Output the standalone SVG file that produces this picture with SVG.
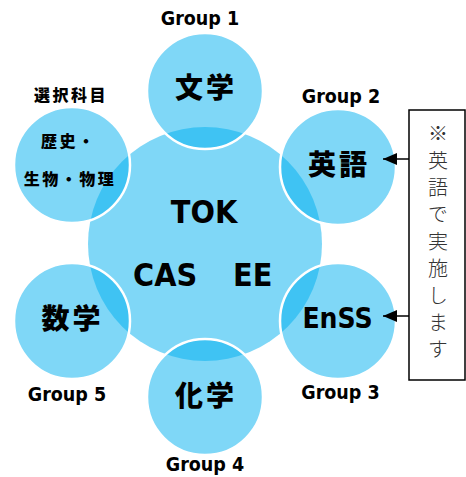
<svg xmlns="http://www.w3.org/2000/svg" width="466" height="477" viewBox="0 0 466 477">
<style>
.big{fill:#00B0F0;fill-opacity:0.5;}
.sm{fill:#00B0F0;fill-opacity:0.5;stroke:#fff;stroke-width:2.5;}
.lat{font-family:"DejaVu Sans Condensed","DejaVu Sans",sans-serif;font-weight:bold;fill:#000;}
.grp{font-size:19.5px;text-anchor:middle;}
.cjk{font-family:"Noto Sans CJK JP",sans-serif;font-weight:900;fill:#000;}
.bigj{font-size:28px;letter-spacing:3px;text-anchor:middle;}
.smj{font-size:16px;letter-spacing:2.5px;}
.note{font-family:"Noto Sans CJK JP",sans-serif;font-weight:300;font-size:20px;fill:#333;writing-mode:vertical-rl;letter-spacing:7px;}
.conn{stroke:#000;stroke-width:1.5;fill:none;}
</style>
<defs>
<marker id="ah" markerUnits="userSpaceOnUse" markerWidth="14" markerHeight="12" refX="14" refY="6" orient="auto">
<path d="M0,0 L14,6 L0,12 z" fill="#000"/>
</marker>
</defs>
<g id="core">
<circle class="big" cx="205" cy="244" r="117"/>
<text class="lat" font-size="32" x="204" y="223" text-anchor="middle">TOK</text>
<text class="lat" font-size="32" y="286"><tspan x="133">CAS</tspan><tspan x="233">EE</tspan></text>
</g>
<g id="group1">
<circle class="sm" cx="205" cy="91" r="58"/>
<text class="cjk bigj" x="206" y="98">文学</text>
<text class="lat grp" x="200" y="25">Group 1</text>
</g>
<g id="group2">
<circle class="sm" cx="338" cy="167" r="58"/>
<text class="cjk bigj" x="339" y="175">英語</text>
<text class="lat grp" x="341" y="103">Group 2</text>
</g>
<g id="group3">
<circle class="sm" cx="338" cy="321" r="58"/>
<text class="lat" font-size="28" x="337.5" y="328" text-anchor="middle">EnSS</text>
<text class="lat grp" x="340.5" y="399">Group 3</text>
</g>
<g id="group4">
<circle class="sm" cx="205" cy="397" r="58"/>
<text class="cjk bigj" x="206" y="406">化学</text>
<text class="lat grp" x="205" y="471">Group 4</text>
</g>
<g id="group5">
<circle class="sm" cx="72" cy="321" r="58"/>
<text class="cjk bigj" x="72.5" y="329">数学</text>
<text class="lat grp" x="67" y="401">Group 5</text>
</g>
<g id="elective">
<circle class="sm" cx="72" cy="165" r="58"/>
<text class="cjk smj" x="71" y="101" text-anchor="middle">選択科目</text>
<text class="cjk smj" x="41" y="147">歴史・</text>
<text class="cjk smj" x="70" y="185" text-anchor="middle">生物・物理</text>
</g>
<g id="note">
<rect x="409" y="110" width="56" height="270" fill="#fff" stroke="#000" stroke-width="1.5"/>
<text class="note" x="438" y="123">※英語で実施します</text>
</g>
<g id="connectors">
<line class="conn" x1="409" y1="159" x2="383" y2="159" marker-end="url(#ah)"/>
<line class="conn" x1="409" y1="316" x2="383" y2="316" marker-end="url(#ah)"/>
</g>
</svg>
